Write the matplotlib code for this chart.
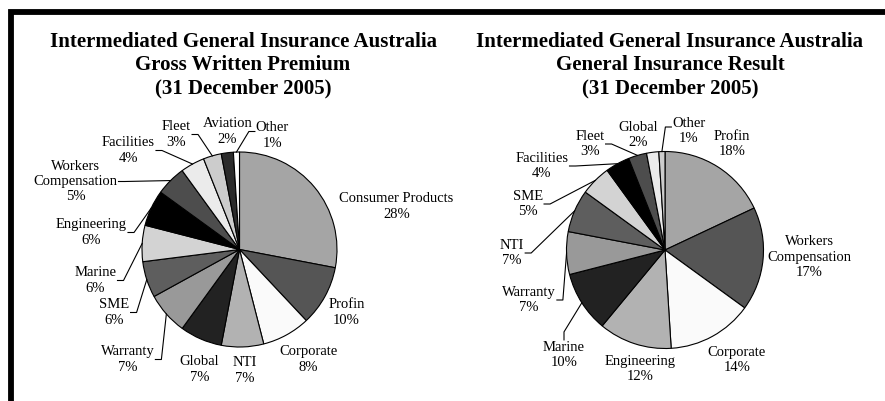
import numpy as np
import matplotlib.pyplot as plt

plt.rcParams['font.family'] = ['Liberation Serif', 'DejaVu Serif']

# Gross Written Premium split (clockwise from 12 o'clock)
gwp_labels = ['Consumer Products', 'Profin', 'Corporate', 'NTI', 'Global', 'Warranty',
              'SME', 'Marine', 'Engineering', 'Workers\nCompensation', 'Facilities',
              'Fleet', 'Aviation', 'Other']
gwp_values = [28, 10, 8, 7, 7, 7, 6, 6, 6, 5, 4, 3, 2, 1]

# General Insurance Result split
res_labels = ['Profin', 'Workers\nCompensation', 'Corporate', 'Engineering', 'Marine',
              'Warranty', 'NTI', 'SME', 'Facilities', 'Fleet', 'Global', 'Other']
res_values = [18, 17, 14, 12, 10, 7, 7, 5, 4, 3, 2, 1]

titles = ['Intermediated General Insurance Australia\nGross Written Premium\n(31 December 2005)',
          'Intermediated General Insurance Australia\nGeneral Insurance Result\n(31 December 2005)']

# excel-ish grey fills, same cycle for both pies
greys = ['#a5a5a5', '#555555', '#fafafa', '#b2b2b2', '#222222', '#999999', '#5e5e5e',
         '#d3d3d3', '#000000', '#4d4d4d', '#ebebeb', '#cccccc', '#2b2b2b', '#ffffff']

W, H = 885, 401
fig = plt.figure(figsize=(W / 100, H / 100), dpi=100)
ax = fig.add_axes([0, 0, 1, 1])

# layout: (pie centre, radius, title x), label offsets from centre in px (dx right, dy down),
# and where the leader line leaves the label ('r', 'l', 't' or None)
left_layout = dict(center=(239.5, H - 249.5), radius=97.5, title_x=243)
left_pos = [(157, -43), (107, 63), (69, 110), (5, 121), (-40, 120), (-112, 110),
            (-125, 63), (-144, 31), (-148, -17), (-164, -68), (-111, -99),
            (-63, -115), (-12, -118), (33, -114)]
left_lead = [None, None, None, None, None, 'r', 'r', 'r', 'r', 'r', 'r', 'r', None, 'l']

right_layout = dict(center=(665, H - 250), radius=98.5, title_x=670)
right_pos = [(67, -106), (144, 7), (72, 110), (-25, 119), (-101, 105), (-136, 50),
             (-153, 3), (-137, -46), (-123, -84), (-75, -106), (-27, -115), (24, -119)]
right_lead = [None, None, None, None, 't', 'r', 'r', 'r', 'r', 'r', None, 'l']


def draw_pie(values, labels, layout, pos, lead):
    cx, cy = layout['center']
    wedges, _ = ax.pie(values, colors=greys[:len(values)], startangle=90, counterclock=False,
                       center=(cx, cy), radius=layout['radius'], frame=True,
                       wedgeprops=dict(edgecolor='black', linewidth=0.8))
    texts = []
    for v, lab, (dx, dy) in zip(values, labels, pos):
        t = ax.text(cx + dx, cy - dy, f'{lab}\n{v}%', ha='center', va='center',
                    fontsize=10.5, linespacing=1.22)
        texts.append(t)
    return wedges, texts


def draw_leaders(wedges, texts, lead):
    fig.canvas.draw()
    r = fig.canvas.get_renderer()
    inv = ax.transData.inverted()
    for w, t, side in zip(wedges, texts, lead):
        if side is None:
            continue
        mid = np.deg2rad((w.theta1 + w.theta2) / 2)
        ex = w.center[0] + w.r * np.cos(mid)
        ey = w.center[1] + w.r * np.sin(mid)
        bb = t.get_window_extent(r).transformed(inv)
        if side == 'r':
            x0, y0 = bb.x1 + 1, (bb.y0 + bb.y1) / 2
            x1, y1 = x0 + 6, y0
        elif side == 'l':
            x0, y0 = bb.x0 - 1, (bb.y0 + bb.y1) / 2 + 4
            x1, y1 = x0 - 6, y0
        else:
            x0, y0 = (bb.x0 + bb.x1) / 2, bb.y1 + 1
            x1, y1 = x0, y0 + 8
        ax.plot([x0, x1, ex], [y0, y1, ey], color='black', lw=0.8)


w1, t1 = draw_pie(gwp_values, gwp_labels, left_layout, left_pos, left_lead)
w2, t2 = draw_pie(res_values, res_labels, right_layout, right_pos, right_lead)

for lay, title in zip([left_layout, right_layout], titles):
    ax.text(lay['title_x'], H - 65, title, ha='center', va='center', fontsize=15,
            fontweight='bold', linespacing=1.22)

ax.set_xlim(0, W)
ax.set_ylim(0, H)
ax.set_aspect('auto')
ax.axis('off')

draw_leaders(w1, t1, left_lead)
draw_leaders(w2, t2, right_lead)

# thick frame on top and left edges
ax.plot([11, 11, W], [0, H - 11.5, H - 11.5], color='black', lw=4.2, solid_joinstyle='miter')

fig.savefig('out.png', dpi=100)
